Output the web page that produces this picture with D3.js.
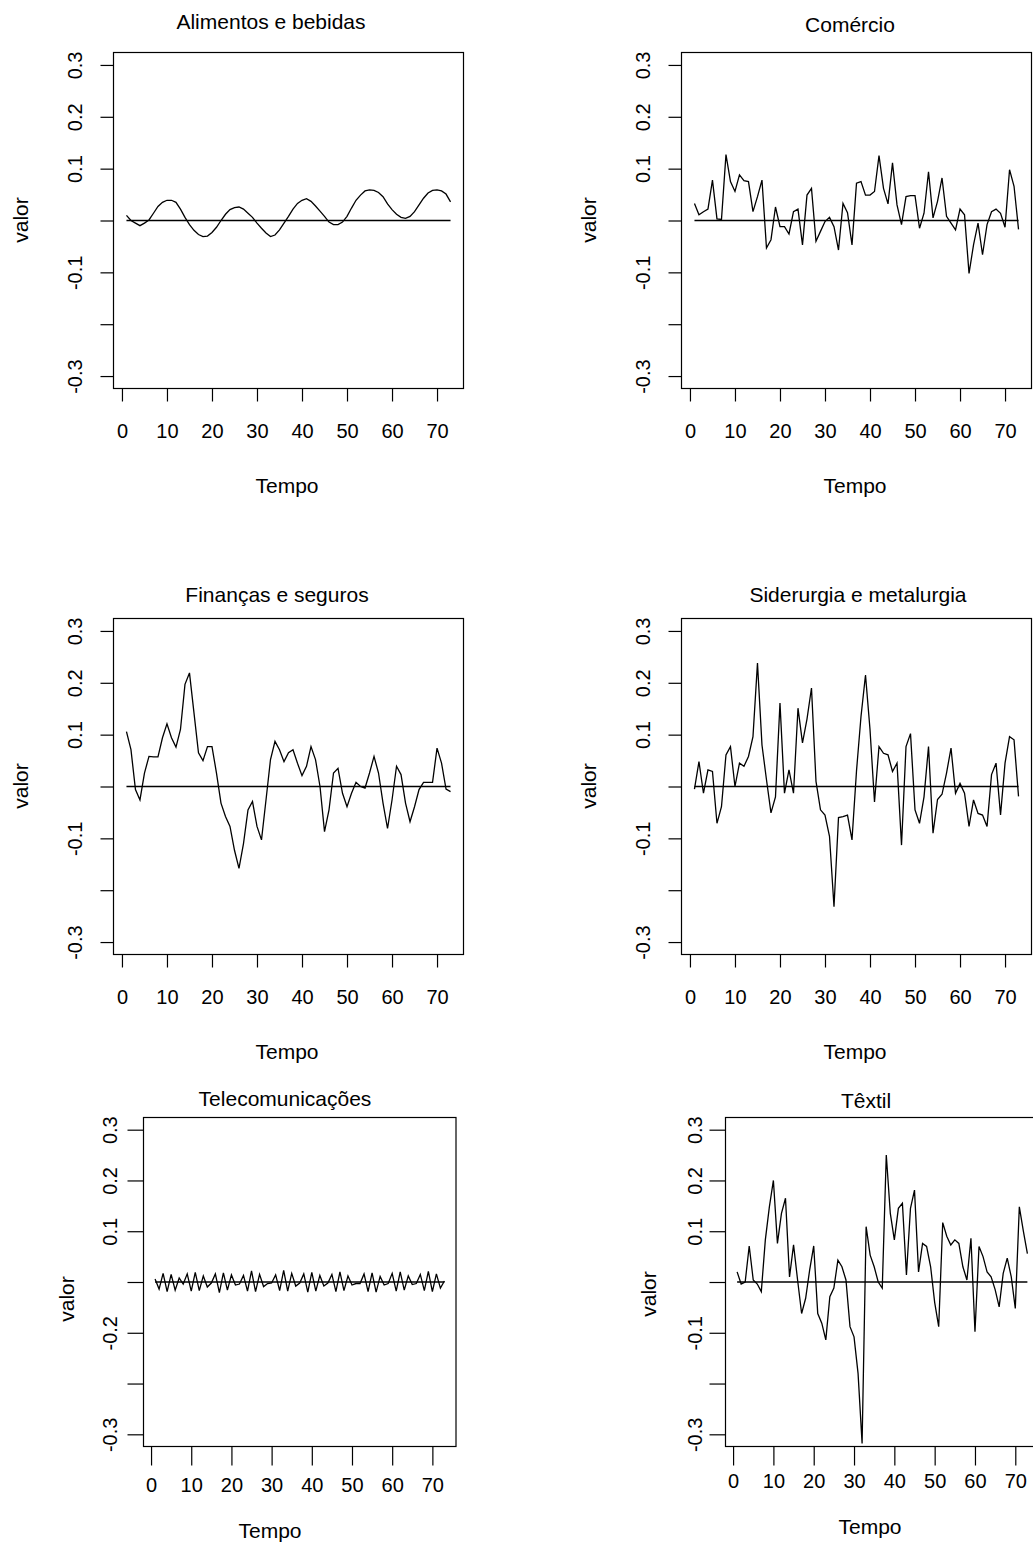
<!DOCTYPE html>
<html>
<head>
<meta charset="utf-8">
<script src="https://cdn.jsdelivr.net/npm/d3@7"></script>
<style>
  body { margin: 0; background: #fff; }
  svg text { font-family: "Liberation Sans", Arial, sans-serif; fill: #000; }
</style>
</head>
<body>
<div id="chart"></div>
<script>
// Títulos dos painéis
const titles = ['Alimentos e bebidas', 'Comércio', 'Finanças e seguros',
  'Siderurgia e metalurgia', 'Telecomunicações', 'Têxtil'];

// Séries (t = 1..73)
const alimentos = [
  0.010, 0.000, -0.005, -0.010, -0.005, 0.001, 0.014, 0.027, 0.035, 0.039,
  0.039, 0.035, 0.022, 0.006, -0.008, -0.019, -0.027, -0.031, -0.030, -0.023,
  -0.013, 0.000, 0.012, 0.021, 0.025, 0.026, 0.022, 0.014, 0.006, -0.005,
  -0.015, -0.024, -0.031, -0.028, -0.018, -0.005, 0.008, 0.022, 0.033, 0.039,
  0.042, 0.037, 0.028, 0.018, 0.008, -0.003, -0.008, -0.008, -0.003, 0.008,
  0.024, 0.039, 0.049, 0.057, 0.059, 0.058, 0.054, 0.046, 0.032, 0.021,
  0.012, 0.006, 0.004, 0.008, 0.017, 0.030, 0.043, 0.053, 0.058, 0.059,
  0.057, 0.051, 0.036];

const comercio = [
  0.033, 0.011, 0.017, 0.022, 0.078, 0.003, 0.002, 0.127, 0.075, 0.056,
  0.088, 0.077, 0.075, 0.017, 0.046, 0.078, -0.053, -0.037, 0.026, -0.012,
  -0.012, -0.026, 0.017, 0.022, -0.047, 0.049, 0.062, -0.040, -0.021, -0.002,
  0.006, -0.012, -0.057, 0.033, 0.015, -0.047, 0.072, 0.075, 0.049, 0.049,
  0.056, 0.125, 0.062, 0.032, 0.111, 0.030, -0.008, 0.046, 0.048, 0.048,
  -0.015, 0.014, 0.094, 0.005, 0.037, 0.082, 0.008, -0.005, -0.018, 0.022,
  0.011, -0.102, -0.047, -0.005, -0.066, -0.008, 0.017, 0.022, 0.014, -0.013,
  0.098, 0.066, -0.017];

const financas = [
  0.106, 0.071, -0.006, -0.026, 0.026, 0.058, 0.057, 0.057, 0.094, 0.121,
  0.094, 0.076, 0.110, 0.197, 0.219, 0.142, 0.065, 0.050, 0.077, 0.077,
  0.026, -0.032, -0.058, -0.077, -0.123, -0.158, -0.110, -0.045, -0.029, -0.077,
  -0.103, -0.026, 0.052, 0.087, 0.071, 0.048, 0.065, 0.071, 0.045, 0.021,
  0.039, 0.077, 0.052, 0.000, -0.087, -0.045, 0.026, 0.035, -0.013, -0.039,
  -0.013, 0.008, 0.000, -0.003, 0.026, 0.058, 0.026, -0.032, -0.081, -0.026,
  0.039, 0.023, -0.032, -0.068, -0.039, -0.006, 0.008, 0.008, 0.008, 0.074,
  0.045, -0.005, -0.010];

const siderurgia = [
  -0.005, 0.048, -0.013, 0.032, 0.029, -0.071, -0.039, 0.061, 0.077, 0.000,
  0.045, 0.039, 0.058, 0.096, 0.238, 0.080, 0.013, -0.051, -0.020, 0.161,
  -0.013, 0.032, -0.013, 0.151, 0.084, 0.130, 0.190, 0.010, -0.045, -0.055,
  -0.096, -0.232, -0.060, -0.058, -0.055, -0.103, 0.030, 0.135, 0.215, 0.110,
  -0.030, 0.077, 0.064, 0.061, 0.029, 0.045, -0.113, 0.077, 0.102, -0.045,
  -0.071, -0.020, 0.077, -0.090, -0.025, -0.015, 0.026, 0.074, -0.013, 0.006,
  -0.013, -0.077, -0.026, -0.052, -0.055, -0.077, 0.023, 0.045, -0.055, 0.045,
  0.096, 0.090, -0.019];

const telecom = [
  0.006, -0.014, 0.017, -0.019, 0.015, -0.016, 0.008, -0.004, 0.016, -0.018,
  0.019, -0.017, 0.012, -0.010, -0.002, 0.016, -0.021, 0.018, -0.016, 0.014,
  -0.006, -0.004, 0.013, -0.018, 0.022, -0.019, 0.015, -0.009, -0.003, -0.002,
  0.014, -0.017, 0.023, -0.018, 0.017, -0.008, -0.002, 0.016, -0.020, 0.019,
  -0.018, 0.013, -0.008, -0.002, 0.015, -0.019, 0.020, -0.017, 0.012, -0.006,
  -0.003, -0.003, 0.016, -0.019, 0.018, -0.020, 0.011, -0.006, -0.003, 0.017,
  -0.018, 0.020, -0.016, 0.012, -0.005, -0.003, 0.015, -0.017, 0.021, -0.019,
  0.016, -0.012, 0.002];

const textil = [
  0.020, -0.004, 0.000, 0.071, 0.004, -0.004, -0.019, 0.083, 0.148, 0.200,
  0.076, 0.135, 0.165, 0.010, 0.073, 0.004, -0.062, -0.032, 0.024, 0.071,
  -0.062, -0.081, -0.114, -0.029, -0.012, 0.043, 0.030, 0.004, -0.088, -0.108,
  -0.180, -0.318, 0.109, 0.053, 0.030, 0.000, -0.012, 0.250, 0.135, 0.083,
  0.145, 0.155, 0.014, 0.145, 0.181, 0.020, 0.076, 0.070, 0.030, -0.040,
  -0.088, 0.117, 0.090, 0.073, 0.083, 0.076, 0.030, 0.004, 0.086, -0.098,
  0.070, 0.050, 0.020, 0.010, -0.015, -0.049, 0.017, 0.047, 0.010, -0.052,
  0.148, 0.100, 0.056];

const series = [alimentos, comercio, financas, siderurgia, telecom, textil];

// Eixos
const xTicks = [0, 10, 20, 30, 40, 50, 60, 70];
const yTicks = [-0.3, -0.2, -0.1, 0, 0.1, 0.2, 0.3];
const yTickLabels = ['-0.3', '', '-0.1', '', '0.1', '0.2', '0.3'];
const yTickLabelsTelecom = ['-0.3', '', '-0.2', '', '0.1', '0.2', '0.3'];
const yLabelSets = [yTickLabels, yTickLabels, yTickLabels, yTickLabels, yTickLabelsTelecom, yTickLabels];
const xLabel = 'Tempo';
const yLabel = 'valor';
const xDomain = [-1.88, 75.88];
const yDomain = [-0.324, 0.324];

// Posição de cada painel na página
const panels = [
  { left: 113.5, right: 463.5, top: 52.5, bottom: 388.5, titleX: 271, titleY: 29, xTickY: 438, xLabX: 287, xLabY: 493, yTickX: 82, yLabX: 28, yLabY: 220, tickX: 13, tickY: 13 },
  { left: 681.5, right: 1031.5, top: 52.5, bottom: 388.5, titleX: 850, titleY: 32, xTickY: 438, xLabX: 855, xLabY: 493, yTickX: 650, yLabX: 596, yLabY: 220, tickX: 13, tickY: 13 },
  { left: 113.5, right: 463.5, top: 618.5, bottom: 954.5, titleX: 277, titleY: 602, xTickY: 1004, xLabX: 287, xLabY: 1059, yTickX: 82, yLabX: 28, yLabY: 786, tickX: 13, tickY: 13 },
  { left: 681.5, right: 1031.5, top: 618.5, bottom: 954.5, titleX: 858, titleY: 602, xTickY: 1004, xLabX: 855, xLabY: 1059, yTickX: 650, yLabX: 596, yLabY: 786, tickX: 13, tickY: 13 },
  { left: 143.5, right: 456, top: 1117.5, bottom: 1446.5, titleX: 285, titleY: 1106, xTickY: 1492, xLabX: 270, xLabY: 1538, yTickX: 117, yLabX: 74, yLabY: 1299, tickX: 19, tickY: 16 },
  { left: 725.5, right: 1039, top: 1117.5, bottom: 1446.5, titleX: 866, titleY: 1108, xTickY: 1488, xLabX: 870, xLabY: 1534, yTickX: 702, yLabX: 656, yLabY: 1294, tickX: 19, tickY: 16 }
];

const svg = d3.select('#chart').append('svg')
  .attr('width', 1033)
  .attr('height', 1544)
  .style('display', 'block');

svg.append('rect').attr('width', 1033).attr('height', 1544).attr('fill', '#fff');

panels.forEach((p, k) => {
  const values = series[k];
  const data = values.map((v, i) => ({ t: i + 1, v }));

  const x = d3.scaleLinear().domain(xDomain).range([p.left, p.right]);
  const y = d3.scaleLinear().domain(yDomain).range([p.bottom, p.top]);

  const g = svg.append('g');

  // Título
  g.append('text')
    .attr('x', p.titleX)
    .attr('y', p.titleY)
    .attr('text-anchor', 'middle')
    .style('font-size', '21px')
    .text(titles[k]);

  // Eixo x
  const xAxis = g.append('g')
    .attr('transform', 'translate(0,' + p.bottom + ')')
    .call(d3.axisBottom(x).tickValues(xTicks).tickSize(p.tickX).tickSizeOuter(0).tickFormat(d3.format('d')));
  xAxis.select('.domain').remove();
  xAxis.selectAll('line').attr('stroke', '#000').attr('stroke-width', 1.2);
  xAxis.selectAll('text')
    .attr('y', p.xTickY - p.bottom)
    .attr('dy', 0)
    .attr('fill', '#000')
    .style('font-size', '20px')
    .style('font-family', '"Liberation Sans", Arial, sans-serif');

  // Eixo y (rótulos girados, como no R)
  const labels = yLabelSets[k];
  const yAxis = g.append('g')
    .attr('transform', 'translate(' + p.left + ',0)')
    .call(d3.axisLeft(y).tickValues(yTicks).tickSize(p.tickY).tickSizeOuter(0).tickFormat((d, i) => labels[i]));
  yAxis.select('.domain').remove();
  yAxis.selectAll('line').attr('stroke', '#000').attr('stroke-width', 1.2);
  yAxis.selectAll('text')
    .attr('transform', 'rotate(-90)')
    .attr('x', 0)
    .attr('y', p.yTickX - p.left)
    .attr('dy', 0)
    .attr('text-anchor', 'middle')
    .attr('fill', '#000')
    .style('font-size', '20px')
    .style('font-family', '"Liberation Sans", Arial, sans-serif');

  // Caixa do gráfico
  g.append('rect')
    .attr('x', p.left)
    .attr('y', p.top)
    .attr('width', p.right - p.left)
    .attr('height', p.bottom - p.top)
    .attr('fill', 'none')
    .attr('stroke', '#000')
    .attr('stroke-width', 1.2);

  // Linha de referência em zero
  g.append('line')
    .attr('x1', x(data[0].t))
    .attr('x2', x(data[data.length - 1].t))
    .attr('y1', y(0))
    .attr('y2', y(0))
    .attr('stroke', '#000')
    .attr('stroke-width', 1.3);

  // Série
  const line = d3.line()
    .x(d => x(d.t))
    .y(d => y(d.v));

  g.append('path')
    .datum(data)
    .attr('d', line)
    .attr('fill', 'none')
    .attr('stroke', '#000')
    .attr('stroke-width', 1.3)
    .attr('stroke-linejoin', 'miter');

  // Rótulos dos eixos
  g.append('text')
    .attr('x', p.xLabX)
    .attr('y', p.xLabY)
    .attr('text-anchor', 'middle')
    .style('font-size', '21px')
    .text(xLabel);

  g.append('text')
    .attr('transform', 'translate(' + p.yLabX + ',' + p.yLabY + ') rotate(-90)')
    .attr('text-anchor', 'middle')
    .style('font-size', '21px')
    .text(yLabel);
});
</script>
</body>
</html>
